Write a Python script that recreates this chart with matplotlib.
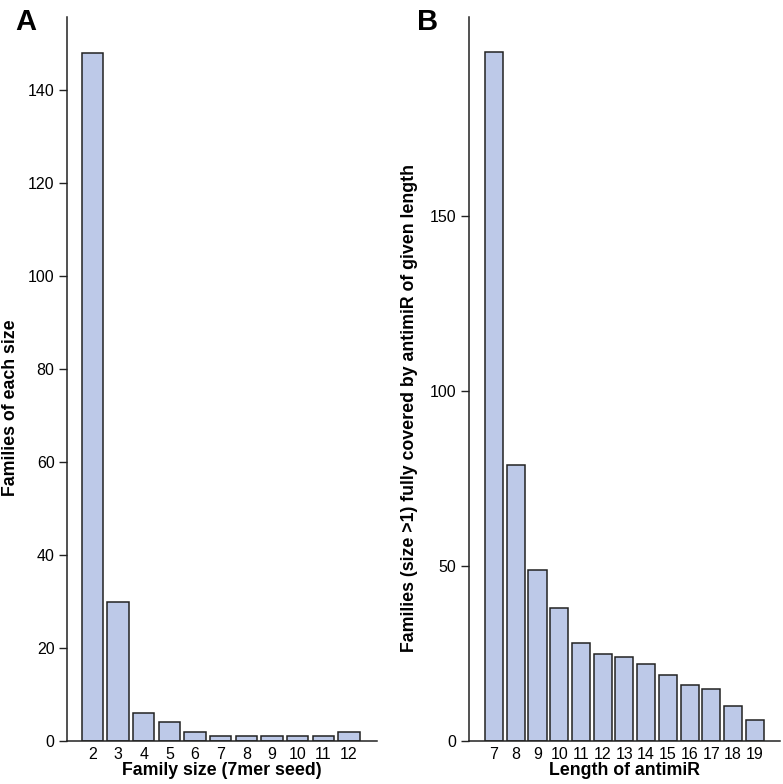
import matplotlib
matplotlib.use("Agg")
import matplotlib.pyplot as plt

plt.rcParams['font.family'] = ['Liberation Sans', 'DejaVu Sans']

# panel A
fam_sizes = ['2', '3', '4', '5', '6', '7', '8', '9', '10', '11', '12']
fam_counts = [148, 30, 6, 4, 2, 1, 1, 1, 1, 1, 2]

# panel B
anti_lengths = ['7', '8', '9', '10', '11', '12', '13', '14', '15', '16', '17', '18', '19']
anti_counts = [197, 79, 49, 38, 28, 25, 24, 22, 19, 16, 15, 10, 6]

bar_col = '#BDC9E8'
edge_col = '#222222'

fig = plt.figure(figsize=(7.83, 7.84), dpi=100)
axA = fig.add_axes([0.0856, 0.0548, 0.3959, 0.9235])
axB = fig.add_axes([0.599, 0.0548, 0.397, 0.9235])


def style(ax, labels, counts, xlim, ylim, yticks, xlabel, ylabel):
    x = list(range(len(counts)))
    ax.bar(x, counts, width=0.83, color=bar_col, edgecolor=edge_col, linewidth=1.1)
    ax.set_xlim(*xlim)
    ax.set_ylim(*ylim)
    ax.set_xticks(x)
    ax.set_xticklabels(labels)
    ax.set_yticks(yticks)
    ax.tick_params(axis='x', length=0, pad=4, labelsize=11.5)
    ax.tick_params(axis='y', length=6, width=1.0, pad=3, labelsize=11.5, color='#222222')
    for s in ['top', 'right']:
        ax.spines[s].set_visible(False)
    for s in ['left', 'bottom']:
        ax.spines[s].set_linewidth(1.1)
        ax.spines[s].set_color('#222222')
    ax.set_xlabel(xlabel, fontsize=12.8, fontweight='bold', labelpad=0)
    ax.set_ylabel(ylabel, fontsize=12.8, fontweight='bold')
    ax.yaxis.set_label_coords(-0.155 if len(counts) == 11 else -0.165, 0.46)


style(axA, fam_sizes, fam_counts, (-0.99, 11.09), (0, 155.7),
      [0, 20, 40, 60, 80, 100, 120, 140],
      'Family size (7mer seed)', 'Families of each size')
style(axB, anti_lengths, anti_counts, (-1.15, 13.15), (0, 206.9),
      [0, 50, 100, 150],
      'Length of antimiR', 'Families (size >1) fully covered by antimiR of given length')

fig.text(0.019, 0.962, 'A', fontsize=21, fontweight='bold', ha='left', va='baseline')
fig.text(0.533, 0.962, 'B', fontsize=21, fontweight='bold', ha='left', va='baseline')

plt.savefig('out.png', dpi=100)
